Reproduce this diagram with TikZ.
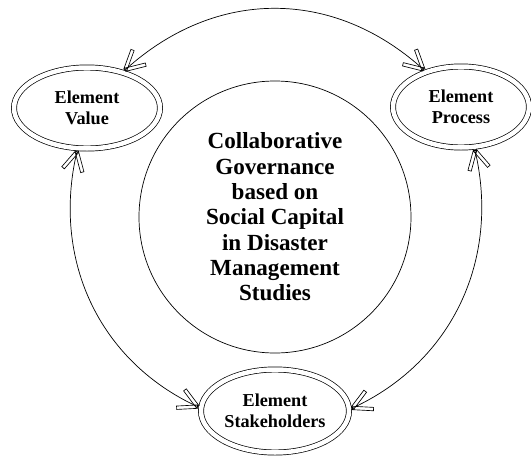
\documentclass[tikz,border=0pt]{standalone}
\usepackage{fontspec}
\setmainfont{Liberation Serif}
\usepackage{tikz}
\usetikzlibrary{shapes.geometric}

% open barbs drawn as two thin outlined strips
\pgfdeclarearrow{
  name = Barbs,
  setup code = {
    \pgfarrowssettipend{0.8pt}
    \pgfarrowssetlineend{-1pt}
    \pgfarrowssetvisualbackend{-19pt}
    \pgfarrowssetbackend{-19pt}
    \pgfarrowshullpoint{0.8pt}{0pt}
    \pgfarrowshullpoint{-19.4pt}{11.4pt}
    \pgfarrowshullpoint{-19.4pt}{-11.4pt}
  },
  drawing code = {
    \pgfsetlinewidth{0.65pt}
    \pgfsetdash{}{0pt}
    \pgfsetmiterjoin
    \pgfpathmoveto{\pgfqpoint{0.798pt}{1.501pt}}
    \pgfpathlineto{\pgfqpoint{-17.74pt}{11.36pt}}
    \pgfpathlineto{\pgfqpoint{-19.34pt}{8.36pt}}
    \pgfpathlineto{\pgfqpoint{-0.798pt}{-1.501pt}}
    \pgfpathclose
    \pgfpathmoveto{\pgfqpoint{0.798pt}{-1.501pt}}
    \pgfpathlineto{\pgfqpoint{-17.74pt}{-11.36pt}}
    \pgfpathlineto{\pgfqpoint{-19.34pt}{-8.36pt}}
    \pgfpathlineto{\pgfqpoint{-0.798pt}{1.501pt}}
    \pgfpathclose
    \pgfusepathqstroke
  }
}

\begin{document}
\begin{tikzpicture}[x=1pt, y=1pt, <->, >=Barbs, line width=0.7pt]
  \tikzstyle{element}=[ellipse, draw, double, double distance=4.5pt, outer sep=3pt,
                       inner sep=1pt, align=center,
                       font=\bfseries\fontsize{18.2}{20.7}\selectfont]
  \useasboundingbox (-275,-239) rectangle (256,217);

  \node[circle, draw, minimum size=272pt, align=center,
        font=\bfseries\fontsize{23.1}{25.3}\selectfont] (gov) at (0,0)
        {Collaborative\\Governance\\based on\\Social Capital\\in Disaster\\Management\\Studies};

  \node[element, minimum width=146pt, minimum height=81pt] (value)   at (-188,109) {Element\\Value};
  \node[element, minimum width=136pt, minimum height=81pt] (process) at (186,110)  {Element\\Process};
  \node[element, minimum width=148pt, minimum height=83pt] (stake)   at (0,-194)   {Element\\Stakeholders};

  \draw (value.45)   to[out=42, in=138, looseness=1.05] (process.135);
  \draw (value.-103) to[out=-103, in=155] (stake.177);
  \draw (process.-72) to[out=-77, in=25] (stake.2);
\end{tikzpicture}
\end{document}
